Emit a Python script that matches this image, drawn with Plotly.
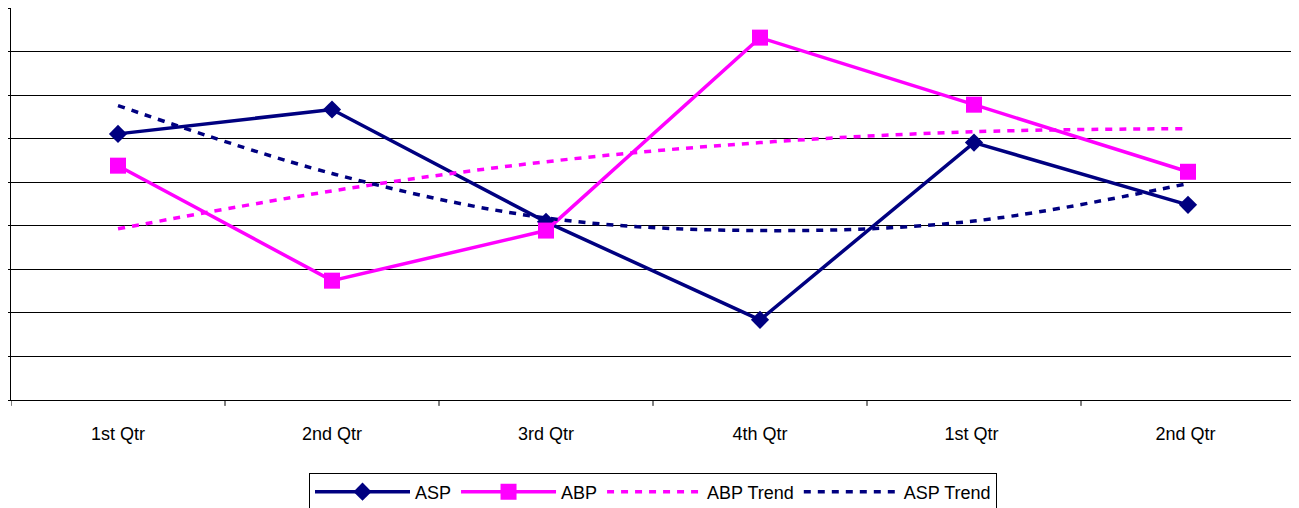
import plotly.graph_objects as go

quarters = ["1st Qtr", "2nd Qtr", "3rd Qtr", "4th Qtr", "1st Qtr ", "2nd Qtr "]
asp = [6.11, 6.67, 4.09, 1.84, 5.91, 4.48]
abp = [5.38, 2.74, 3.89, 8.32, 6.78, 5.24]
abp_trend = [3.93, 4.80, 5.47, 5.91, 6.16, 6.23]
asp_trend = [6.76, 5.20, 4.18, 3.89, 4.11, 4.97]

navy = "#000080"
pink = "#FF00FF"

fig = go.Figure()
fig.add_scatter(x=quarters, y=asp, name="ASP", mode="lines+markers",
                line=dict(color=navy, width=3.5),
                marker=dict(symbol="diamond", size=14, color=navy))
fig.add_scatter(x=quarters, y=abp, name="ABP", mode="lines+markers",
                line=dict(color=pink, width=3.5),
                marker=dict(symbol="square", size=16, color=pink))
fig.add_scatter(x=quarters, y=abp_trend, name="ABP Trend", mode="lines",
                line=dict(color=pink, width=3.5, dash="7px,7px", shape="spline"))
fig.add_scatter(x=quarters, y=asp_trend, name="ASP Trend", mode="lines",
                line=dict(color=navy, width=3.5, dash="7px,7px", shape="spline"))

fig.update_xaxes(range=[-0.5, 5.5], showline=True, linecolor="black", linewidth=1,
                 ticks="", showgrid=False, automargin=False, ticklabelstandoff=17,
                 tickfont=dict(family="Liberation Sans, Arial", size=18, color="black"))
fig.update_yaxes(range=[0, 9], dtick=1, showline=True, linecolor="black", linewidth=1,
                 ticks="outside", ticklen=5, tickcolor="black", showticklabels=False,
                 showgrid=True, gridcolor="black", gridwidth=1, zeroline=False,
                 automargin=False)

# tick marks between categories on the x axis
for i in range(7):
    fig.add_shape(type="line", xref="x", yref="paper", x0=i - 0.5, x1=i - 0.5,
                  y0=0, y1=-0.015, line=dict(color="black", width=1))

fig.update_layout(
    width=1291, height=500, margin=dict(l=3, r=4, t=0, b=108, autoexpand=False),
    plot_bgcolor="white", paper_bgcolor="white", showlegend=True,
    legend=dict(orientation="h", x=0.5, xanchor="center", y=-0.185, yanchor="top",
                bordercolor="black", borderwidth=1,
                font=dict(family="Liberation Sans, Arial", size=18, color="black"),
                itemwidth=95, tracegroupgap=0),
)
fig.write_html("out.html")
